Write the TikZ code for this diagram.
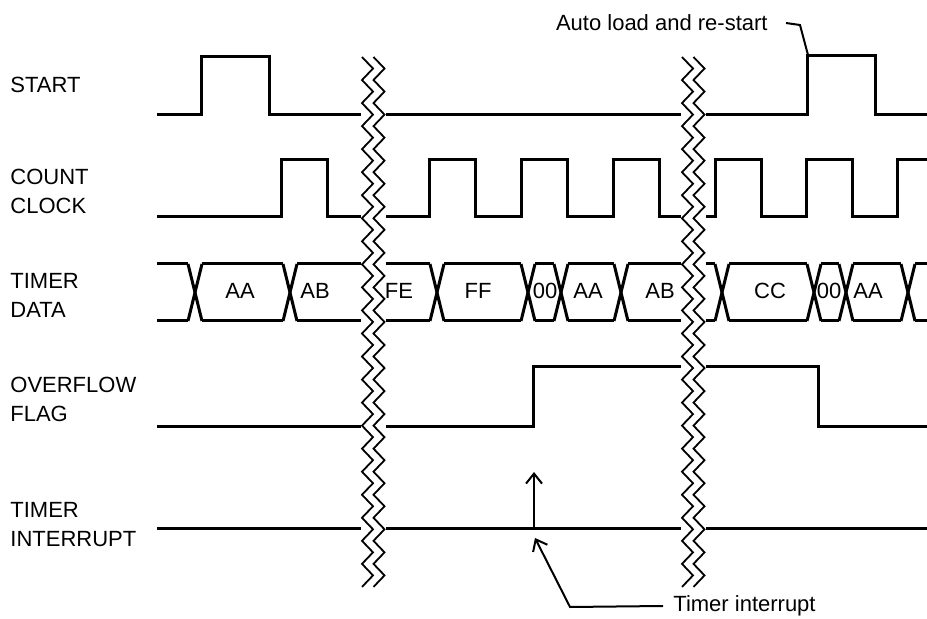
\documentclass[tikz,border=0pt]{standalone}
\usepackage{fontspec}
\setmainfont{Liberation Sans}
\usetikzlibrary{arrows.meta,positioning}
\tikzset
{
    sig/.style     = {line width=1.5pt},
    brkline/.style = {line width=0.9pt},
    leader/.style  = {line width=1pt},
    barb/.style    = {-{Straight Barb[length=5pt,width=8pt,line width=1pt]}},
    signame/.style = {anchor=west, align=left, inner sep=0pt, font=\fontsize{11}{14.5}\selectfont},
    buslbl/.style  = {inner sep=0pt, font=\fontsize{11}{13}\selectfont},
    note/.style    = {font=\fontsize{11}{13}\selectfont},
    brk/.pic = {
        \fill[white] (-1,-2) rectangle (23.5,532);
        \draw[brkline] (0,0) \foreach \i in {1,...,46}{ -- ({mod(\i,2)*11},{\i*11.52}) };
        \draw[brkline] (11.5,0) \foreach \i in {1,...,46}{ -- ({11.5+mod(\i,2)*11},{\i*11.52}) };
    }
}

\begin{document}
\begin{tikzpicture}[x=0.5pt, y=-0.5pt]

    \newcommand\BUSTOP{264}
    \newcommand\BUSBOT{321}
    \newcommand\XW{7}

    \useasboundingbox (0,0) rectangle (927,619);

    % signal names
    \node (nstart) [signame] at (10,84.5) {START};
    \node (nclk)   [signame] at (10,191)  {COUNT\\CLOCK};
    \node (ndata)  [signame] at (10,295)  {TIMER\\DATA};
    \node (novf)   [signame] at (10,399)  {OVERFLOW\\FLAG};
    \node (nint)   [signame] at (10,525)  {TIMER\\INTERRUPT};

    % START
    \draw[sig] (157,115) -- (201,115) -- (201,57) -- (269,57) -- (269,115)
               -- (807,115) -- (807,56) -- (875,56) -- (875,115) -- (927,115);

    % COUNT CLOCK
    \draw[sig] (157,217) -- (281,217) -- (281,160) -- (327,160) -- (327,217)
               -- (429,217) -- (429,160) -- (475,160) -- (475,217)
               -- (521,217) -- (521,160) -- (567,160) -- (567,217)
               -- (613,217) -- (613,160) -- (659,160) -- (659,217)
               -- (715,217) -- (715,160) -- (761,160) -- (761,217)
               -- (806,217) -- (806,160) -- (852,160) -- (852,217)
               -- (897,217) -- (897,160) -- (927,160);

    % TIMER DATA
    \foreach \a/\b in {157/188, 202/283, 297/430, 444/521, 535/554, 568/614, 628/715, 729/807, 821/839, 853/901, 915/927}
    {
        \draw[sig] (\a,\BUSTOP) -- (\b,\BUSTOP);
        \draw[sig] (\a,\BUSBOT) -- (\b,\BUSBOT);
    }
    \foreach \c in {195, 290, 437, 528, 561, 621, 722, 814, 846, 908}
    {
        \draw[sig] (\c-\XW,\BUSTOP) -- (\c+\XW,\BUSBOT);
        \draw[sig] (\c-\XW,\BUSBOT) -- (\c+\XW,\BUSTOP);
    }

    % OVERFLOW FLAG
    \draw[sig] (157,427) -- (533,427) -- (533,367) -- (818,367) -- (818,427) -- (927,427);

    % TIMER INTERRUPT
    \draw[sig] (157,529) -- (927,529);
    \coordinate (irq) at (534,529);
    \coordinate (irqtop) at (534,472);
    \draw[leader, barb] (irq) -- (irqtop);

    % breaks
    \pic at (362,57) {brk};
    \pic at (682,57) {brk};

    % data values
    \foreach \x/\t [count=\n] in {240/AA, 315/AB, 399/FE, 478/FF, 545/00, 588/AA, 660/AB, 770/CC, 829/00, 868/AA}
        \node (d\n) [buslbl] at (\x,291) {\t};

    % notes
    \node (autolbl) [note, anchor=east, inner xsep=9pt] at (786,23) {Auto load and re-start};
    \coordinate (autobend) at (800,25);
    \coordinate (autotip) at (808,55);
    \draw[leader] (autolbl.east) -- (autobend) -- (autotip);

    \node (tintlbl) [note, anchor=west, inner xsep=5pt] at (663,606) {Timer interrupt};
    \coordinate (tintbend) at (570,607);
    \coordinate (tinttip) at (535,538);
    \draw[leader, barb] (tintlbl.west) -- (tintbend) -- (tinttip);

\end{tikzpicture}
\end{document}
